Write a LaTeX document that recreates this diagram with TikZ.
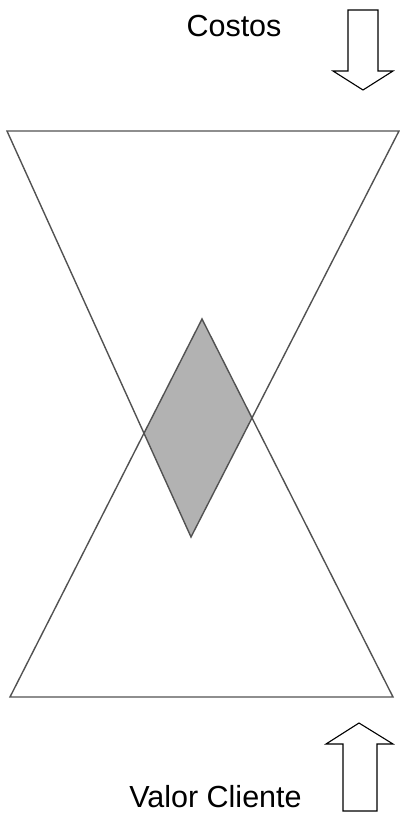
\documentclass[tikz,border=0pt]{standalone}
\usepackage{fontspec}
\setmainfont{Liberation Sans}
\begin{document}
\begin{tikzpicture}[x=1pt,y=-1pt,
  tri/.style={draw=black!68,line width=1.4pt,line join=miter},
  shade/.style={fill=black!30,draw=black!68,line width=1.4pt},
  bigarrow/.style={draw=black,line width=1.1pt,fill=white,line join=miter},
  lbl/.style={inner sep=0pt,anchor=base,font=\fontsize{30.5}{36}\selectfont}]
\useasboundingbox (0,0) rectangle (399,814);
% triangle vertices
\coordinate (tl) at (7,131);
\coordinate (tr) at (399,131);
\coordinate (tb) at (191,537);
\coordinate (bl) at (10,697);
\coordinate (br) at (393,697);
\coordinate (bt) at (202,319);
% intersections
\coordinate (il) at (intersection of tl--tb and bl--bt);
\coordinate (ir) at (intersection of tr--tb and br--bt);
\fill[black!30] (bt) -- (ir) -- (tb) -- (il) -- cycle;
\draw[tri] (tl) -- (tr) -- (tb) -- cycle;
\draw[tri] (bl) -- (br) -- (bt) -- cycle;
% arrows
\draw[bigarrow] (348,10) -- (378,10) -- (378,71) -- (393,71) -- (363,90) -- (333,71) -- (348,71) -- cycle;
\draw[bigarrow] (343,811) -- (377,811) -- (377,744) -- (393,744) -- (359,723) -- (326,744) -- (343,744) -- cycle;
% labels
\node[lbl] (costos) at (234,36) {Costos};
\node[lbl] (valor) at (215.5,807) {Valor Cliente};
\end{tikzpicture}
\end{document}
